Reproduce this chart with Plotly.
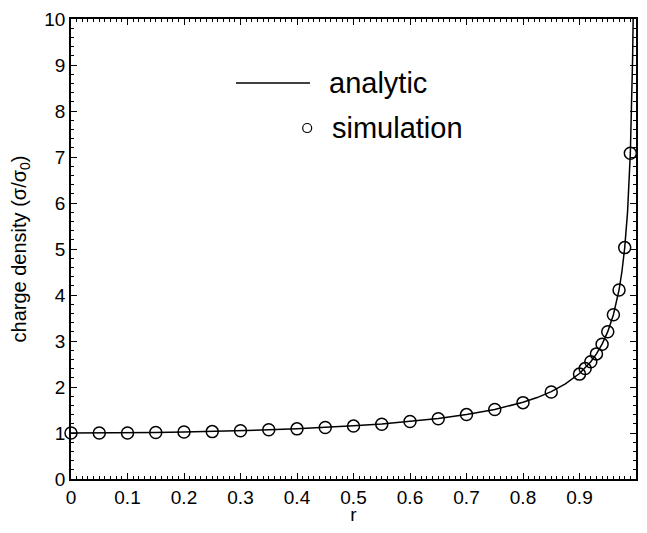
import plotly.graph_objects as go

# ---- data ----
sim_r = [0.0, 0.05, 0.10, 0.15, 0.20, 0.25, 0.30, 0.35, 0.40, 0.45, 0.50, 0.55,
         0.60, 0.65, 0.70, 0.75, 0.80, 0.85, 0.90, 0.91, 0.92, 0.93, 0.94, 0.95,
         0.96, 0.97, 0.98, 0.99]
sim_sigma = [1.00, 1.00, 1.00, 1.01, 1.02, 1.03, 1.05, 1.07, 1.09, 1.12, 1.15, 1.19,
             1.25, 1.31, 1.40, 1.51, 1.66, 1.89, 2.28, 2.40, 2.55, 2.72, 2.93, 3.20,
             3.57, 4.11, 5.03, 7.08]

ana_r = [0.0, 0.05, 0.10, 0.15, 0.20, 0.25, 0.30, 0.35, 0.40, 0.45, 0.50, 0.55,
         0.60, 0.65, 0.70, 0.75, 0.80, 0.825, 0.85, 0.875, 0.90, 0.91, 0.92, 0.93,
         0.94, 0.95, 0.96, 0.97, 0.975, 0.98, 0.985, 0.99, 0.992, 0.994, 0.995, 0.997]
ana_sigma = [1.000, 1.001, 1.005, 1.011, 1.021, 1.033, 1.048, 1.068, 1.091, 1.120, 1.155, 1.197,
             1.250, 1.316, 1.400, 1.512, 1.667, 1.770, 1.898, 2.066, 2.294, 2.412, 2.551, 2.721,
             2.931, 3.203, 3.571, 4.113, 4.500, 5.025, 5.795, 7.089, 7.921, 9.142, 10.01, 12.92]

x_tickvals = [0, 0.1, 0.2, 0.3, 0.4, 0.5, 0.6, 0.7, 0.8, 0.9, 1.0]
x_ticktext = ["0", "0.1", "0.2", "0.3", "0.4", "0.5", "0.6", "0.7", "0.8", "0.9", "1"]
y_tickvals = [0, 1, 2, 3, 4, 5, 6, 7, 8, 9, 10]
y_ticktext = ["0", "1", "2", "3", "4", "5", "6", "7", "8", "9", "10"]

legend_labels = ["analytic", "simulation"]

FONT = "Liberation Sans, Arial, Helvetica, sans-serif"

fig = go.Figure()
fig.add_trace(go.Scatter(
    x=ana_r, y=ana_sigma, mode="lines",
    line=dict(color="black", width=1.5),
    name=legend_labels[0], showlegend=False, cliponaxis=True,
))
fig.add_trace(go.Scatter(
    x=sim_r, y=sim_sigma, mode="markers",
    marker=dict(symbol="circle-open", size=12, color="black", line=dict(width=1.5, color="black")),
    name=legend_labels[1], showlegend=False, cliponaxis=False,
))

axis_common = dict(
    showgrid=False, zeroline=False,
    showline=True, linecolor="black", linewidth=1.5, mirror="ticks",
    ticks="inside", ticklen=6, tickwidth=1.2, tickcolor="black",
    tickfont=dict(family=FONT, size=19, color="black"),
)

fig.update_xaxes(
    range=[0, 1], tickvals=x_tickvals, ticktext=x_ticktext,
    minor=dict(ticks="inside", ticklen=3, tickwidth=1, tickcolor="black", dtick=0.01, tick0=0),
    title=dict(text="r", font=dict(family=FONT, size=19, color="black"), standoff=3),
    automargin=False,
    **axis_common,
)
fig.update_yaxes(
    range=[0, 10], tickvals=y_tickvals, ticktext=y_ticktext,
    minor=dict(ticks="inside", ticklen=3, tickwidth=1, tickcolor="black", dtick=0.2, tick0=0),
    title=dict(text="charge density (σ/σ<sub>0</sub>)", font=dict(family=FONT, size=20, color="black"), standoff=15),
    automargin=False,
    **axis_common,
)

# manual legend
fig.add_shape(type="line", xref="paper", yref="paper", x0=0.292, x1=0.423, y0=0.861, y1=0.861,
              line=dict(color="black", width=1.5))
fig.add_shape(type="circle", xref="paper", yref="paper", xsizemode="pixel", ysizemode="pixel",
              xanchor=0.418, yanchor=0.763, x0=-4.5, x1=4.5, y0=-4.5, y1=4.5,
              line=dict(color="black", width=1.2))
fig.add_annotation(xref="paper", yref="paper", x=0.453, y=0.861, text=legend_labels[0],
                   showarrow=False, xanchor="left", yanchor="middle",
                   font=dict(family=FONT, size=29, color="black"))
fig.add_annotation(xref="paper", yref="paper", x=0.458, y=0.763, text=legend_labels[1],
                   showarrow=False, xanchor="left", yanchor="middle",
                   font=dict(family=FONT, size=29, color="black"))

# the page body has an 8 px margin; size the figure so it fits in the visible page
fig.update_layout(
    width=631, height=517,
    margin=dict(l=63, r=3, t=11, b=46),
    plot_bgcolor="white", paper_bgcolor="white",
    showlegend=False,
)

fig.write_html("out.html")
